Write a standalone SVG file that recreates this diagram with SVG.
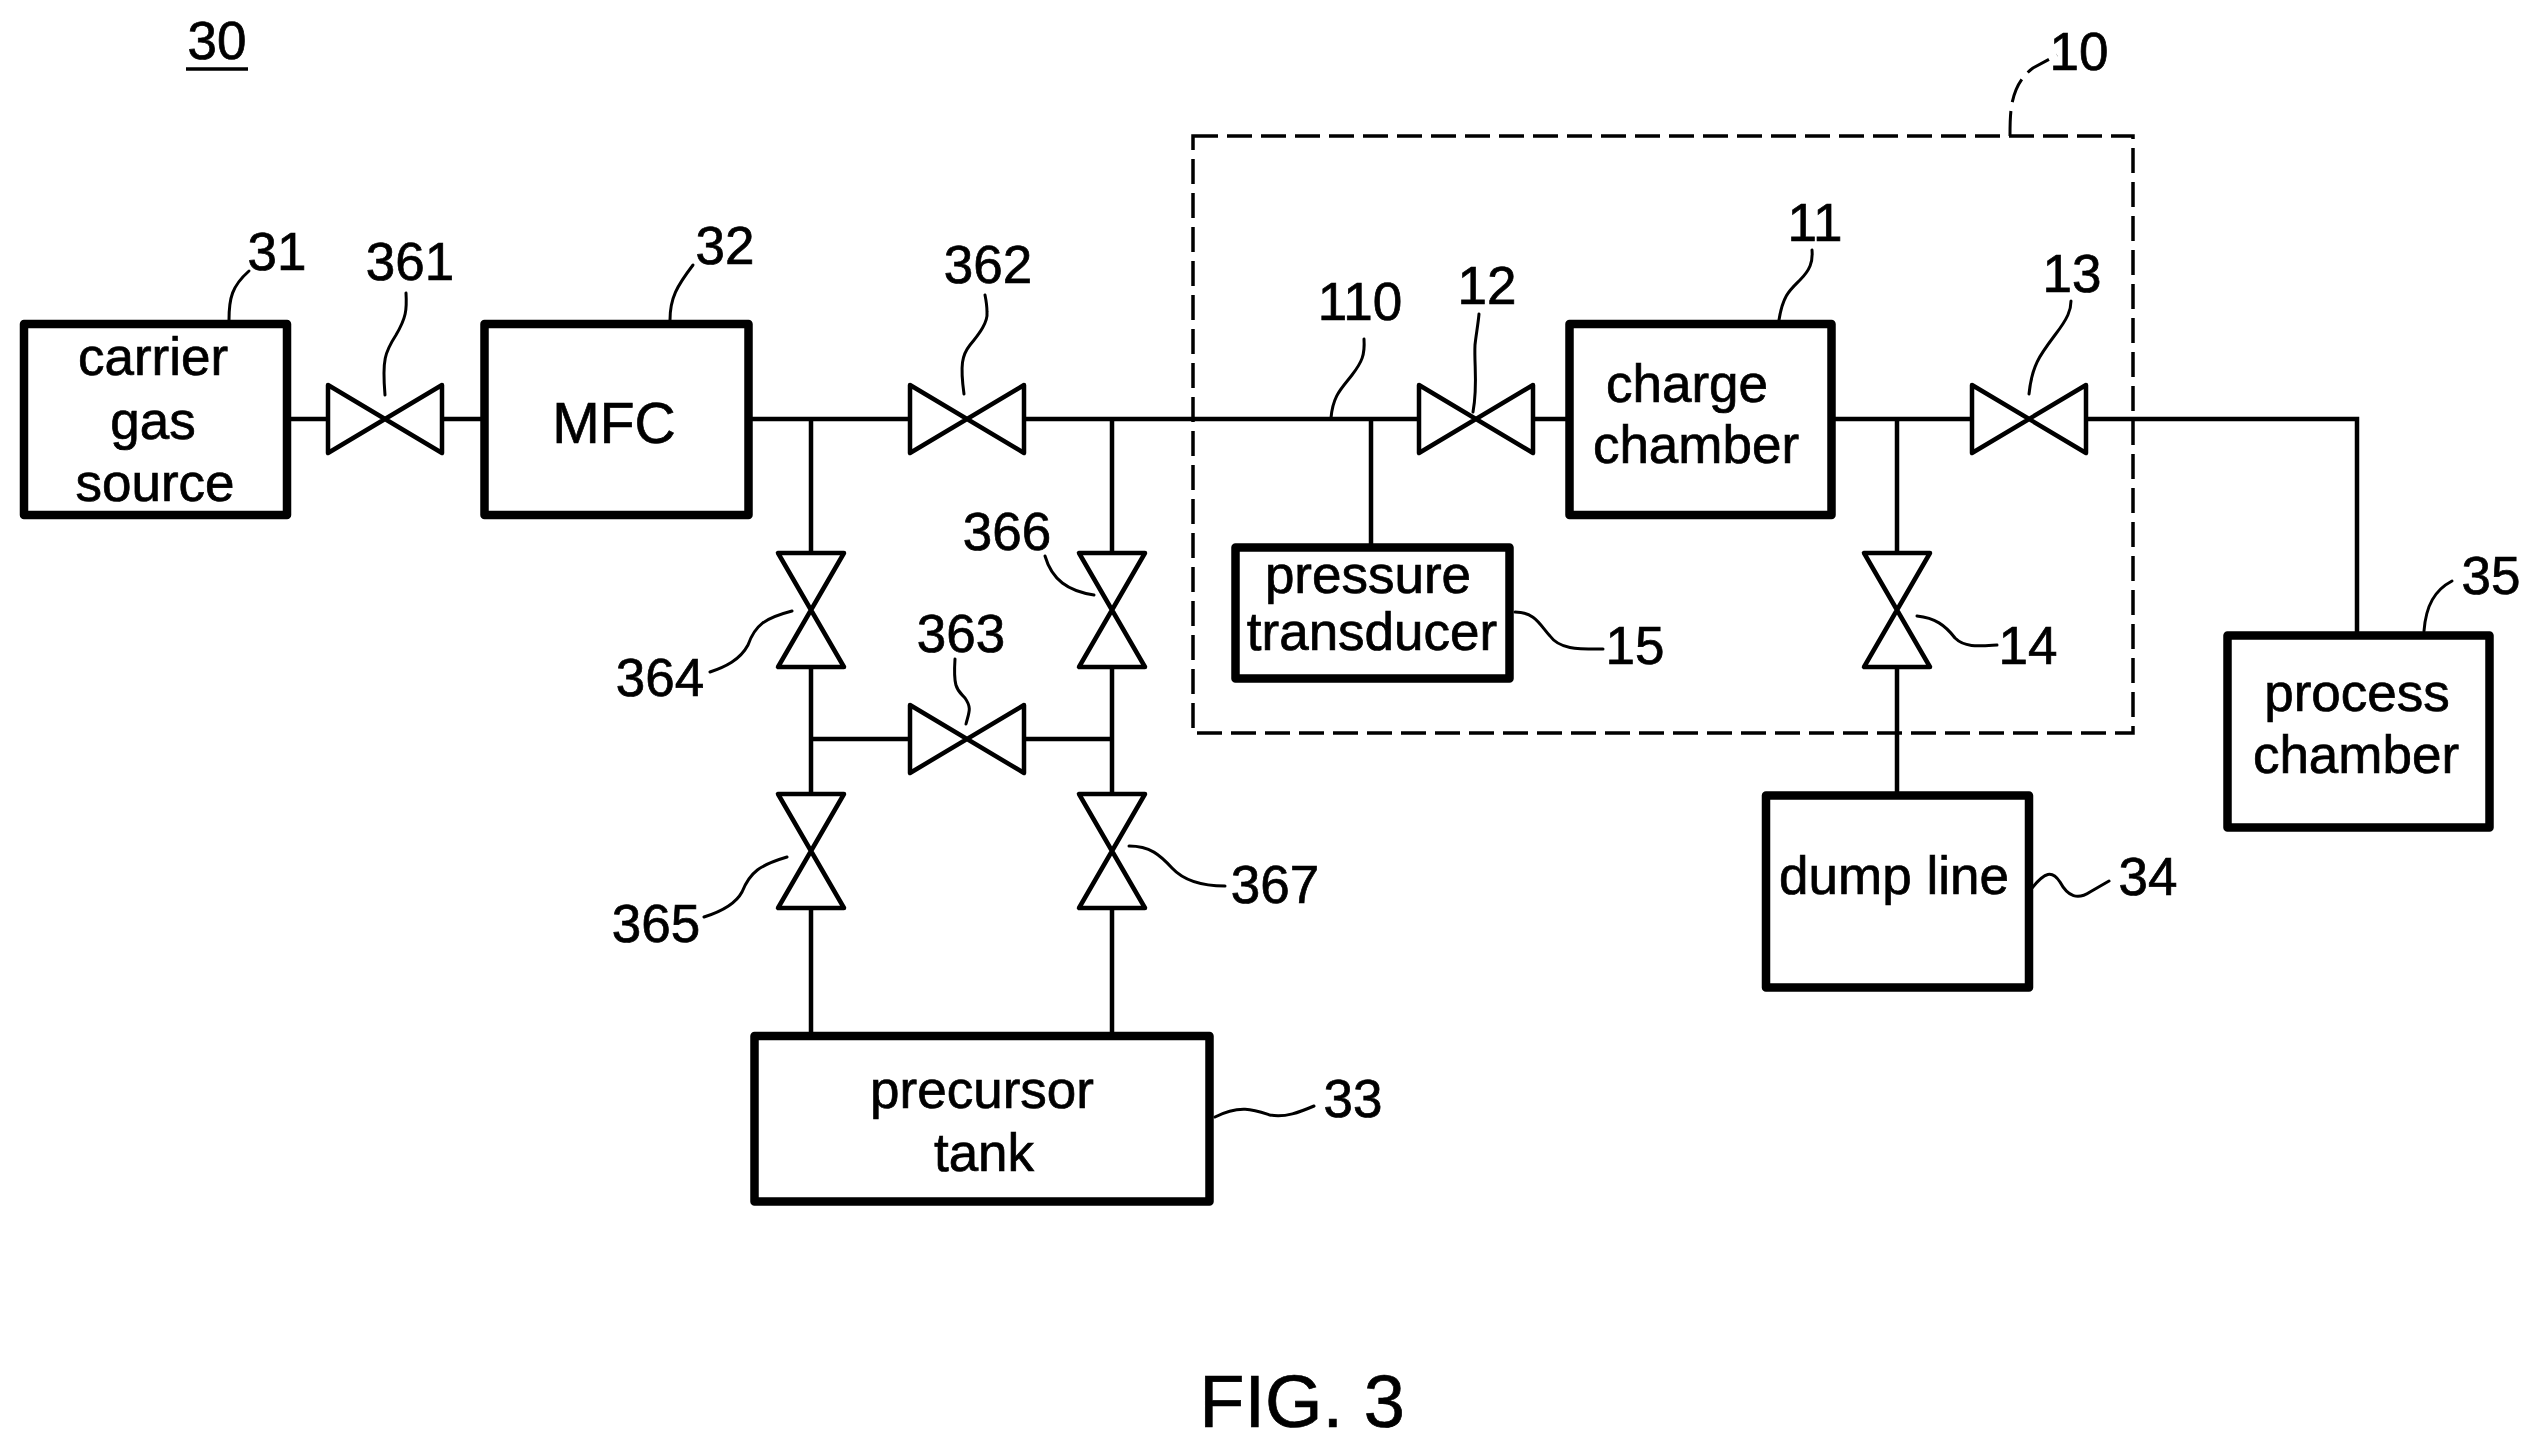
<svg xmlns="http://www.w3.org/2000/svg" width="2539" height="1449" viewBox="0 0 2539 1449">
<style>
text{font-family:"Liberation Sans",Arial,sans-serif;font-size:53px;fill:#000;stroke:#000;stroke-width:.7;text-anchor:middle}
.box{fill:none;stroke:#000;stroke-width:8.5;stroke-linejoin:round}
.valve{fill:#fff;stroke:#000;stroke-width:4.5;stroke-linejoin:round}
.pipe{fill:none;stroke:#000;stroke-width:4.5}
.lead{fill:none;stroke:#000;stroke-width:3;stroke-linecap:round}
.dash{fill:none;stroke:#000;stroke-width:3.5;stroke-dasharray:25 9}
</style>
<defs>
<path id="vh" class="valve" d="M-57,-34 L57,34 L57,-34 L-57,34 Z"/>
<path id="vv" class="valve" d="M-33,-57 L33,-57 L-33,57 L33,57 Z"/>
</defs>
<rect width="2539" height="1449" fill="#fff"/>
<g id="label-30"><text x="217" y="59">30</text><line x1="186" y1="69" x2="248" y2="69" stroke="#000" stroke-width="3.5"/></g>
<g id="connectors">
<path class="pipe" d="M287,419H327M442,419H485M748,419H910M1024,419H1419M1533,419H1570M1831,419H1972M2085,419H2357V632"/>
<path class="pipe" d="M811,419V553M811,667V794M811,908V1032M1112,419V553M1112,667V794M1112,908V1032M811,739H910M1024,739H1112M1371,419V545M1897,419V553M1897,667V793"/>
</g>
<g id="group-10"><rect class="dash" x="1193" y="136" width="940" height="597"/>
<path class="dash" d="M2010,136 C2010,112 2010,85 2033,68 L2057,55" style="stroke-width:3"/><text x="2079" y="70">10</text></g>
<g id="node-31"><rect class="box" x="24" y="324" width="263" height="191"/><text x="153" y="375">carrier</text><text x="153" y="439">gas</text><text x="155" y="501">source</text>
<path class="lead" d="M229,320 C229,298 232,286 249,271"/><text x="277" y="270">31</text></g>
<g id="valve-361"><use href="#vh" x="385" y="419"/><path class="lead" d="M385,395 C382,360 385,352 396,335 C406,318 407,310 406,293"/><text x="410" y="280">361</text></g>
<g id="node-32"><rect class="box" x="484.5" y="324" width="264" height="191"/><text x="614" y="443" style="font-size:57px">MFC</text>
<path class="lead" d="M670,320 C670,298 677,286 693,265"/><text x="725" y="264">32</text></g>
<g id="valve-362"><use href="#vh" x="967" y="419"/><path class="lead" d="M964,394 C960,365 962,355 970,345 C980,333 988,322 987,312 C987,305 986,300 985,295"/><text x="988" y="283">362</text></g>
<g id="valve-364"><use href="#vv" x="811" y="610"/><path class="lead" d="M792,611 C765,618 755,625 748,645 C740,660 725,667 710,672"/><text x="660" y="696">364</text></g>
<g id="valve-365"><use href="#vv" x="811" y="851"/><path class="lead" d="M787,857 C760,865 750,872 742,892 C735,905 720,912 704,917"/><text x="656" y="942">365</text></g>
<g id="valve-366"><use href="#vv" x="1112" y="610"/><path class="lead" d="M1045,556 C1052,580 1068,591 1094,595"/><text x="1007" y="550">366</text></g>
<g id="valve-367"><use href="#vv" x="1112" y="851"/><path class="lead" d="M1129,846 C1150,846 1160,855 1172,868 C1185,882 1205,886 1225,886"/><text x="1275" y="903">367</text></g>
<g id="valve-363"><use href="#vh" x="967" y="739"/><path class="lead" d="M955,659 C953,690 958,690 965,698 C972,708 969,712 966,724"/><text x="961" y="652">363</text></g>
<g id="node-33"><rect class="box" x="754.5" y="1036" width="455" height="165.5"/><text x="982" y="1108">precursor</text><text x="984" y="1171">tank</text>
<path class="lead" d="M1215,1117 C1240,1104 1255,1110 1270,1115 C1285,1118 1300,1112 1314,1106"/><text x="1353" y="1117">33</text></g>
<g id="node-11"><rect class="box" x="1569.5" y="324" width="262" height="191"/><text x="1687" y="402">charge</text><text x="1696" y="463">chamber</text>
<path class="lead" d="M1779,320 C1783,295 1790,290 1800,280 C1810,270 1813,262 1812,250"/><text x="1815" y="241">11</text></g>
<g id="label-110"><path class="lead" d="M1331,418 C1333,395 1342,388 1352,375 C1362,362 1365,355 1364,339"/><text x="1360" y="320">110</text></g>
<g id="valve-12"><use href="#vh" x="1476" y="419"/><path class="lead" d="M1473,412 C1478,385 1474,365 1475,345 C1476,335 1478,325 1479,314"/><text x="1487" y="304">12</text></g>
<g id="valve-13"><use href="#vh" x="2029" y="419"/><path class="lead" d="M2029,394 C2032,365 2040,355 2055,335 C2068,318 2071,310 2071,301"/><text x="2072" y="292">13</text></g>
<g id="valve-14"><use href="#vv" x="1897" y="610"/><path class="lead" d="M1917,616 C1935,618 1945,625 1955,638 C1965,648 1980,646 1997,645"/><text x="2028" y="664">14</text></g>
<g id="node-15"><rect class="box" x="1235.5" y="547.5" width="274" height="131"/><text x="1368" y="593">pressure</text><text x="1372" y="650">transducer</text>
<path class="lead" d="M1515,612 C1535,612 1540,625 1550,636 C1560,650 1580,649 1603,649"/><text x="1635" y="664">15</text></g>
<g id="node-34"><rect class="box" x="1766" y="795.5" width="263" height="192"/><text x="1894" y="894">dump line</text>
<path class="lead" d="M2032,888 C2045,872 2052,870 2060,882 C2068,897 2078,900 2090,892 L2109,881"/><text x="2148" y="895">34</text></g>
<g id="node-35"><rect class="box" x="2227.5" y="635.5" width="262" height="192"/><text x="2357" y="711">process</text><text x="2356" y="773">chamber</text>
<path class="lead" d="M2424,631 C2426,605 2435,590 2452,581"/><text x="2491" y="594">35</text></g>
<text id="fig-label" x="1302" y="1427" style="font-size:74px">FIG. 3</text>
</svg>
